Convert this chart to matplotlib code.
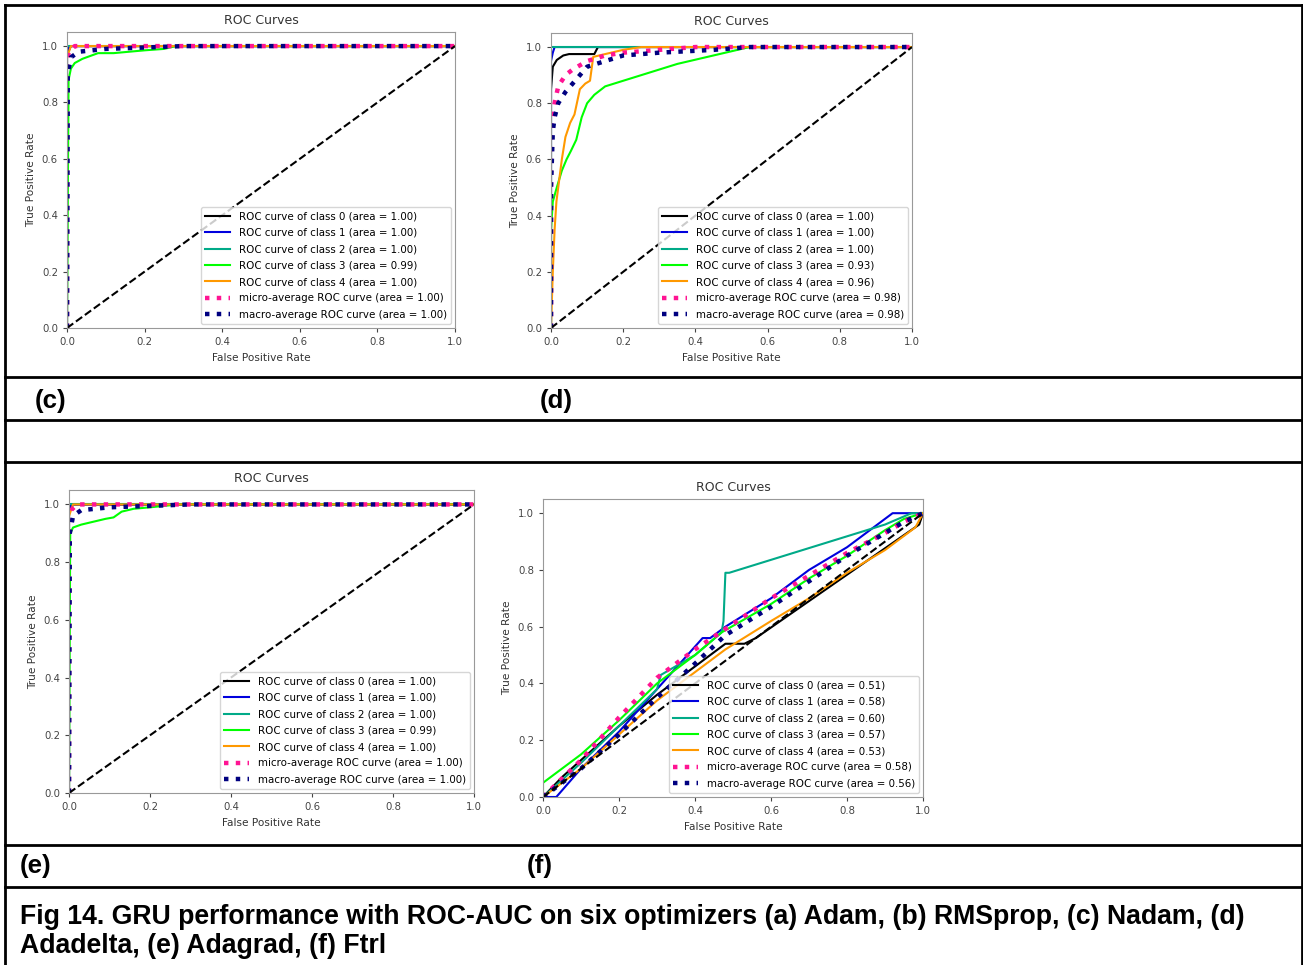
import matplotlib.pyplot as plt
from matplotlib.lines import Line2D

W, H = 1303, 965

# ---- (c) Nadam ----
c_fpr = [[0, 0, 0.01, 1],
         [0, 0, 0.005, 1],
         [0, 0, 1],
         [0, 0.004, 0.01, 0.02, 0.04, 0.06, 0.08, 0.12, 0.16, 0.2, 0.25, 0.28, 1],
         [0, 0, 0.01, 1]]
c_tpr = [[0, 0.97, 1.0, 1.0],
         [0, 0.98, 1.0, 1.0],
         [0, 1.0, 1.0],
         [0, 0.88, 0.92, 0.94, 0.955, 0.965, 0.975, 0.975, 0.98, 0.985, 0.99, 1.0, 1.0],
         [0, 0.96, 1.0, 1.0]]
c_micro_fpr = [0, 0, 0.005, 0.02, 1]
c_micro_tpr = [0, 0.95, 0.98, 1.0, 1.0]
c_macro_fpr = [0, 0.002, 0.01, 0.03, 0.1, 0.3, 1]
c_macro_tpr = [0, 0.9, 0.96, 0.98, 0.99, 1.0, 1.0]
c_auc = [1.00, 1.00, 1.00, 0.99, 1.00]
c_auc_avg = [1.00, 1.00]

# ---- (d) Adadelta ----
d_fpr = [[0, 0, 0.005, 0.016, 0.034, 0.05, 0.12, 0.13, 1],
         [0, 0, 0.005, 0.01, 1],
         [0, 0, 1],
         [0, 0, 0.005, 0.016, 0.03, 0.043, 0.055, 0.07, 0.085, 0.1, 0.12, 0.15, 0.2, 0.25, 0.3, 0.35, 0.4, 0.45, 0.5, 0.55, 1],
         [0, 0.005, 0.01, 0.015, 0.02, 0.03, 0.04, 0.053, 0.065, 0.08, 0.095, 0.108, 0.117, 0.15, 0.2, 0.25, 1]]
d_tpr = [[0, 0.85, 0.93, 0.954, 0.97, 0.975, 0.975, 1.0, 1.0],
         [0, 0.95, 0.98, 1.0, 1.0],
         [0, 1.0, 1.0],
         [0, 0.35, 0.45, 0.5, 0.56, 0.6, 0.63, 0.67, 0.75, 0.8, 0.83, 0.86, 0.88, 0.9, 0.92, 0.94, 0.955, 0.97, 0.985, 1.0, 1.0],
         [0, 0.2, 0.35, 0.45, 0.5, 0.6, 0.68, 0.73, 0.76, 0.85, 0.87, 0.88, 0.965, 0.975, 0.99, 1.0, 1.0]]
d_micro_fpr = [0, 0, 0.01, 0.02, 0.04, 0.06, 0.1, 0.15, 0.2, 0.3, 0.4, 1]
d_micro_tpr = [0, 0.7, 0.8, 0.86, 0.9, 0.92, 0.95, 0.97, 0.98, 0.99, 1.0, 1.0]
d_macro_fpr = [0, 0, 0.005, 0.01, 0.02, 0.04, 0.06, 0.08, 0.1, 0.15, 0.2, 0.3, 0.45, 0.55, 1]
d_macro_tpr = [0, 0.5, 0.7, 0.75, 0.8, 0.84, 0.87, 0.9, 0.93, 0.95, 0.97, 0.98, 0.99, 1.0, 1.0]
d_auc = [1.00, 1.00, 1.00, 0.93, 0.96]
d_auc_avg = [0.98, 0.98]

# ---- (e) Adagrad ----
e_fpr = [[0, 0, 0.01, 1],
         [0, 0, 0.005, 1],
         [0, 0, 1],
         [0, 0.003, 0.01, 0.03, 0.06, 0.09, 0.11, 0.13, 0.16, 0.2, 0.27, 1],
         [0, 0, 0.01, 1]]
e_tpr = [[0, 0.97, 1.0, 1.0],
         [0, 0.98, 1.0, 1.0],
         [0, 1.0, 1.0],
         [0, 0.9, 0.92, 0.93, 0.94, 0.95, 0.955, 0.975, 0.985, 0.99, 1.0, 1.0],
         [0, 0.96, 1.0, 1.0]]
e_micro_fpr = [0, 0, 0.005, 0.02, 1]
e_micro_tpr = [0, 0.95, 0.98, 1.0, 1.0]
e_macro_fpr = [0, 0.002, 0.01, 0.03, 0.1, 0.3, 1]
e_macro_tpr = [0, 0.9, 0.96, 0.98, 0.99, 1.0, 1.0]
e_auc = [1.00, 1.00, 1.00, 0.99, 1.00]
e_auc_avg = [1.00, 1.00]

# ---- (f) Ftrl ----
f_fpr = [[0, 0.05, 0.1, 0.2, 0.3, 0.4, 0.45, 0.48, 0.53, 0.56, 0.99, 1],
         [0, 0.035, 0.1, 0.2, 0.3, 0.4, 0.42, 0.44, 0.48, 0.6, 0.7, 0.8, 0.92, 1],
         [0, 0.1, 0.2, 0.3, 0.31, 0.4, 0.47, 0.475, 0.48, 0.49, 0.9, 0.97, 1],
         [0, 0, 0.1, 0.2, 0.3, 0.4, 0.47, 0.6, 0.7, 0.8, 0.9, 0.95, 1],
         [0, 0.1, 0.2, 0.3, 0.4, 0.48, 0.6, 0.7, 0.8, 0.9, 0.98, 1]]
f_tpr = [[0, 0.07, 0.13, 0.25, 0.36, 0.46, 0.51, 0.54, 0.54, 0.56, 0.96, 1.0],
         [0, 0, 0.1, 0.23, 0.38, 0.53, 0.56, 0.56, 0.6, 0.7, 0.8, 0.88, 1.0, 1.0],
         [0, 0.12, 0.25, 0.38, 0.43, 0.5, 0.58, 0.62, 0.79, 0.79, 0.96, 1.0, 1.0],
         [0, 0.05, 0.15, 0.27, 0.4, 0.5, 0.58, 0.68, 0.77, 0.85, 0.94, 0.98, 1.0],
         [0, 0.1, 0.22, 0.34, 0.44, 0.52, 0.62, 0.7, 0.79, 0.87, 0.95, 1.0]]
f_micro_fpr = [0, 0.1, 0.2, 0.3, 0.4, 0.5, 0.6, 0.7, 0.8, 0.9, 0.95, 1]
f_micro_tpr = [0, 0.13, 0.28, 0.42, 0.52, 0.61, 0.7, 0.78, 0.86, 0.93, 0.97, 1.0]
f_macro_fpr = [0, 0.1, 0.2, 0.3, 0.4, 0.48, 0.6, 0.7, 0.8, 0.9, 0.95, 1]
f_macro_tpr = [0, 0.1, 0.22, 0.35, 0.47, 0.57, 0.67, 0.76, 0.85, 0.93, 0.97, 1.0]
f_auc = [0.51, 0.58, 0.60, 0.57, 0.53]
f_auc_avg = [0.58, 0.56]

panel_labels = ['(c)', '(d)', '(e)', '(f)']
caption = ['Fig 14. GRU performance with ROC-AUC on six optimizers (a) Adam, (b) RMSprop, (c) Nadam, (d)',
           'Adadelta, (e) Adagrad, (f) Ftrl']


def px_rect(left, top, right, bottom):
    return [left / W, 1 - bottom / H, (right - left) / W, (bottom - top) / H]


def draw_roc(ax, fprs, tprs, aucs, micro, macro, avg):
    for i in range(len(fprs)):
        color = plt.cm.nipy_spectral(i / len(fprs))
        ax.plot(fprs[i], tprs[i], lw=1.5, color=color,
                label='ROC curve of class {0} (area = {1:0.2f})'.format(i, aucs[i]))
    ax.plot(micro[0], micro[1], color='deeppink', linestyle=':', lw=3.2,
            label='micro-average ROC curve (area = {0:0.2f})'.format(avg[0]))
    ax.plot(macro[0], macro[1], color='navy', linestyle=':', lw=3.2,
            label='macro-average ROC curve (area = {0:0.2f})'.format(avg[1]))
    ax.plot([0, 1], [0, 1], 'k--', lw=1.5)
    ax.set_xlim([0.0, 1.0])
    ax.set_ylim([0.0, 1.05])
    ax.set_title('ROC Curves', fontsize=9, color='#333333')
    ax.set_xlabel('False Positive Rate', fontsize=7.6, color='#333333')
    ax.set_ylabel('True Positive Rate', fontsize=7.6, color='#333333')
    ax.tick_params(labelsize=7.3, colors='#444444', length=3)
    for s in ax.spines.values():
        s.set_color('#999999')
    ax.legend(loc='lower right', fontsize=7.4, labelspacing=0.62,
              handlelength=2.5, borderaxespad=0.4)


fig = plt.figure(figsize=(W / 100, H / 100), dpi=100)

ax_c = fig.add_axes(px_rect(67, 32, 455, 328))
draw_roc(ax_c, c_fpr, c_tpr, c_auc, (c_micro_fpr, c_micro_tpr), (c_macro_fpr, c_macro_tpr), c_auc_avg)
ax_d = fig.add_axes(px_rect(551, 33, 912, 328))
draw_roc(ax_d, d_fpr, d_tpr, d_auc, (d_micro_fpr, d_micro_tpr), (d_macro_fpr, d_macro_tpr), d_auc_avg)
ax_e = fig.add_axes(px_rect(69, 490, 474, 793))
draw_roc(ax_e, e_fpr, e_tpr, e_auc, (e_micro_fpr, e_micro_tpr), (e_macro_fpr, e_macro_tpr), e_auc_avg)
ax_f = fig.add_axes(px_rect(543, 499, 923, 797))
draw_roc(ax_f, f_fpr, f_tpr, f_auc, (f_micro_fpr, f_micro_tpr), (f_macro_fpr, f_macro_tpr), f_auc_avg)

# table rules around the panels
rule = dict(color='black', lw=2, transform=fig.transFigure)
for y in [5, 377, 420, 462, 845, 887]:
    fig.add_artist(Line2D([5 / W, 1302 / W], [1 - y / H, 1 - y / H], **rule))
for x in [5, 1302]:
    fig.add_artist(Line2D([x / W, x / W], [1 - 5 / H, 0], **rule))

bold = dict(family='Liberation Sans', fontweight='bold', fontsize=18.6, va='center', ha='left')
for lbl, x, y in zip(panel_labels, [35, 540, 20, 527], [401, 401, 866, 866]):
    fig.text(x / W, 1 - y / H, lbl, **bold)
bold['fontsize'] = 19.2
fig.text(20 / W, 1 - 917 / H, caption[0], **bold)
fig.text(20 / W, 1 - 946 / H, caption[1], **bold)

fig.savefig('out.png', dpi=100)
